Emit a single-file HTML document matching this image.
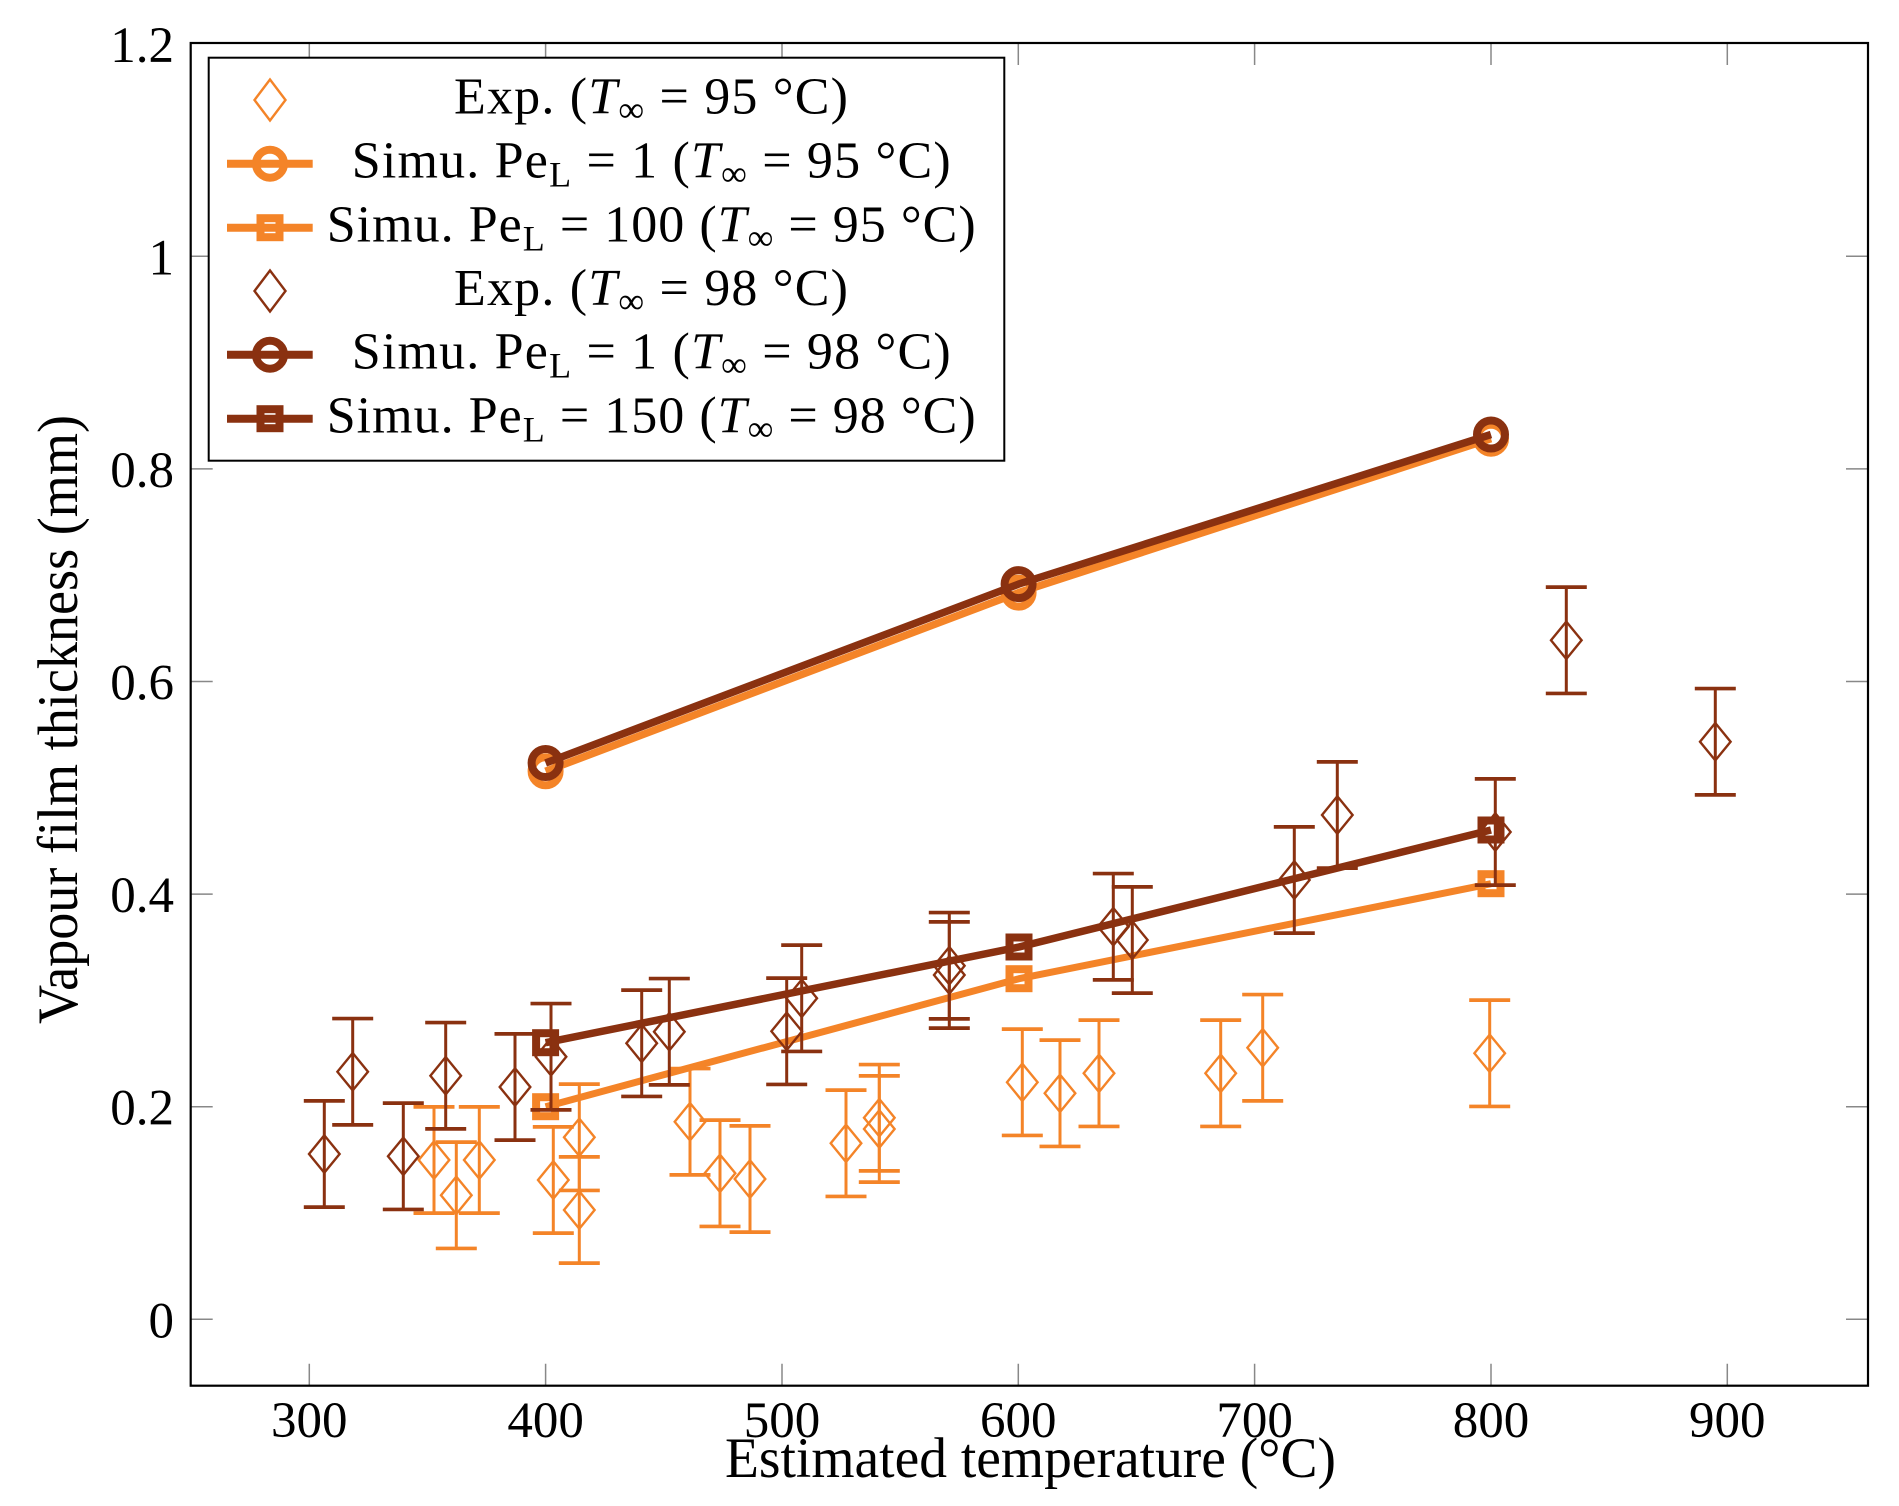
<!DOCTYPE html>
<html>
<head>
<meta charset="utf-8">
<style>
html,body{margin:0;padding:0;background:#fff;}
svg{display:block;}
text{font-family:"Liberation Serif","DejaVu Serif",serif;fill:#000;}
</style>
</head>
<body>
<svg xmlns="http://www.w3.org/2000/svg" xmlns:xlink="http://www.w3.org/1999/xlink" width="1899" height="1506" viewBox="0 0 1899 1506">
<defs>
  <g id="eo" fill="none" stroke="#f48428">
    <path d="M0 -53.15V53.15" stroke-width="3"/>
    <path d="M-20.5 -53.15H20.5M-20.5 53.15H20.5" stroke-width="3.7"/>
    <path d="M0 -18.7L15.3 0L0 18.7L-15.3 0Z" stroke-width="2.4"/>
  </g>
  <g id="eb" fill="none" stroke="#8a3110">
    <path d="M0 -53.15V53.15" stroke-width="3"/>
    <path d="M-20.5 -53.15H20.5M-20.5 53.15H20.5" stroke-width="3.7"/>
    <path d="M0 -18.7L15.3 0L0 18.7L-15.3 0Z" stroke-width="2.4"/>
  </g>
</defs>
<rect width="1899" height="1506" fill="#fff"/>

<!-- ticks -->
<g stroke="#888" stroke-width="1.5">
  <path d="M190.7 1319.3h22M190.7 1106.7h22M190.7 894.1h22M190.7 681.5h22M190.7 468.9h22M190.7 256.3h22"/>
  <path d="M1868 1319.3h-22M1868 1106.7h-22M1868 894.1h-22M1868 681.5h-22M1868 468.9h-22M1868 256.3h-22"/>
  <path d="M309.3 1385.7v-22M545.6 1385.7v-22M782 1385.7v-22M1018.3 1385.7v-22M1254.6 1385.7v-22M1491 1385.7v-22M1727.3 1385.7v-22"/>
  <path d="M309.3 43v22M545.6 43v22M782 43v22M1018.3 43v22M1254.6 43v22M1491 43v22M1727.3 43v22"/>
</g>

<!-- Exp 95 (orange) -->
<use xlink:href="#eo" x="434" y="1160"/>
<use xlink:href="#eo" x="456.3" y="1195.3"/>
<use xlink:href="#eo" x="479.3" y="1160"/>
<use xlink:href="#eo" x="553.3" y="1180"/>
<use xlink:href="#eo" x="579.3" y="1137.3"/>
<use xlink:href="#eo" x="579.3" y="1210"/>
<use xlink:href="#eo" x="690" y="1121.7"/>
<use xlink:href="#eo" x="720" y="1173.3"/>
<use xlink:href="#eo" x="750" y="1179"/>
<use xlink:href="#eo" x="846" y="1143.3"/>
<use xlink:href="#eo" x="879.3" y="1117.7"/>
<use xlink:href="#eo" x="879.3" y="1129"/>
<use xlink:href="#eo" x="1022.3" y="1082.3"/>
<use xlink:href="#eo" x="1060" y="1093.3"/>
<use xlink:href="#eo" x="1099" y="1073.3"/>
<use xlink:href="#eo" x="1220.7" y="1073.3"/>
<use xlink:href="#eo" x="1262.7" y="1047.7"/>
<use xlink:href="#eo" x="1489.7" y="1053.3"/>

<!-- Sim Pe=1 95 -->
<polyline points="545.6,771.3 1018.6,592.6 1491,438.7" fill="none" stroke="#f48428" stroke-width="7.5" stroke-linejoin="round"/>
<g fill="none" stroke="#f48428" stroke-width="8">
  <circle cx="545.6" cy="771.3" r="14"/><circle cx="1018.6" cy="592.6" r="14"/><circle cx="1491" cy="438.7" r="14"/>
</g>
<!-- Sim Pe=100 95 -->
<polyline points="545.6,1106.7 1019,978.7 1491,883.7" fill="none" stroke="#f48428" stroke-width="7" stroke-linejoin="round"/>
<g fill="none" stroke="#f48428" stroke-width="8">
  <rect x="536.1" y="1097.2" width="19" height="19"/><rect x="1009.5" y="969.2" width="19" height="19"/><rect x="1481.5" y="874.2" width="19" height="19"/>
</g>

<!-- Exp 98 (brown) -->
<use xlink:href="#eb" x="324.3" y="1154"/>
<use xlink:href="#eb" x="352.7" y="1071.7"/>
<use xlink:href="#eb" x="403.3" y="1156.3"/>
<use xlink:href="#eb" x="445.7" y="1075.7"/>
<use xlink:href="#eb" x="515" y="1087"/>
<use xlink:href="#eb" x="551" y="1056.7"/>
<use xlink:href="#eb" x="641.7" y="1043.3"/>
<use xlink:href="#eb" x="669.3" y="1031.7"/>
<use xlink:href="#eb" x="786.7" y="1031.3"/>
<use xlink:href="#eb" x="801.7" y="998.3"/>
<use xlink:href="#eb" x="949.3" y="965.7"/>
<use xlink:href="#eb" x="949.3" y="975"/>
<use xlink:href="#eb" x="1113.3" y="926.7"/>
<use xlink:href="#eb" x="1132.3" y="940"/>
<use xlink:href="#eb" x="1294.3" y="880"/>
<use xlink:href="#eb" x="1337.3" y="815"/>
<use xlink:href="#eb" x="1495.3" y="832"/>
<use xlink:href="#eb" x="1566.3" y="640.3"/>
<use xlink:href="#eb" x="1715.3" y="741.7"/>

<!-- Sim Pe=1 98 -->
<polyline points="545.6,763 1018.6,584.1 1491,434.5" fill="none" stroke="#8a3110" stroke-width="7.5" stroke-linejoin="round"/>
<g fill="none" stroke="#8a3110" stroke-width="8">
  <circle cx="545.6" cy="763" r="14"/><circle cx="1018.6" cy="584.1" r="14"/><circle cx="1491" cy="434.5" r="14"/>
</g>
<!-- Sim Pe=150 98 -->
<polyline points="545.6,1042.7 1019,947 1491,830" fill="none" stroke="#8a3110" stroke-width="7.5" stroke-linejoin="round"/>
<g fill="none" stroke="#8a3110" stroke-width="8">
  <rect x="536.1" y="1033.2" width="19" height="19"/><rect x="1009.5" y="937.5" width="19" height="19"/><rect x="1481.5" y="820.5" width="19" height="19"/>
</g>

<!-- axis frame -->
<rect x="190.7" y="43" width="1677.3" height="1342.7" fill="none" stroke="#000" stroke-width="2.2"/>

<!-- tick labels -->
<g font-size="51" text-anchor="end">
  <text x="174" y="62">1.2</text>
  <text x="174" y="274.3">1</text>
  <text x="174" y="486.9">0.8</text>
  <text x="174" y="699.5">0.6</text>
  <text x="174" y="912.1">0.4</text>
  <text x="174" y="1124.7">0.2</text>
  <text x="174" y="1337.3">0</text>
</g>
<g font-size="51" text-anchor="middle">
  <text x="309.3" y="1437">300</text>
  <text x="545.6" y="1437">400</text>
  <text x="782" y="1437">500</text>
  <text x="1018.3" y="1437">600</text>
  <text x="1254.6" y="1437">700</text>
  <text x="1491" y="1437">800</text>
  <text x="1727.3" y="1437">900</text>
</g>

<!-- axis labels -->
<text x="725" y="1477" font-size="57" textLength="611" lengthAdjust="spacingAndGlyphs">Estimated temperature (°C)</text>
<text transform="translate(77,1024) rotate(-90)" font-size="57" textLength="609" lengthAdjust="spacingAndGlyphs">Vapour film thickness (mm)</text>

<!-- legend -->
<rect x="208.7" y="57.7" width="795.6" height="403" fill="#fff" stroke="#000" stroke-width="2"/>
<path d="M270 79.5L285.5 100L270 120.5L254.5 100Z" fill="none" stroke="#f48428" stroke-width="2.4"/>
<path d="M227 163.7H312.7" stroke="#f48428" stroke-width="8"/>
<circle cx="270" cy="163.7" r="14" fill="none" stroke="#f48428" stroke-width="8"/>
<path d="M227 227.7H312.7" stroke="#f48428" stroke-width="8"/>
<rect x="260.5" y="218.2" width="19" height="19" fill="none" stroke="#f48428" stroke-width="8"/>
<path d="M270 270.5L285.5 291L270 311.5L254.5 291Z" fill="none" stroke="#8a3110" stroke-width="2.4"/>
<path d="M227 354.7H312.7" stroke="#8a3110" stroke-width="8"/>
<circle cx="270" cy="354.7" r="14" fill="none" stroke="#8a3110" stroke-width="8"/>
<path d="M227 418.7H312.7" stroke="#8a3110" stroke-width="8"/>
<rect x="260.5" y="409.2" width="19" height="19" fill="none" stroke="#8a3110" stroke-width="8"/>

<g font-size="52">
  <text x="454" y="113.5" textLength="394" lengthAdjust="spacing">Exp. (<tspan font-style="italic">T</tspan><tspan font-size="36" dy="8">∞</tspan><tspan dy="-8"> = 95 °C)</tspan></text>
  <text x="351.7" y="177.5" textLength="599" lengthAdjust="spacing">Simu. Pe<tspan font-size="36" dy="9">L</tspan><tspan dy="-9"> = 1 (</tspan><tspan font-style="italic">T</tspan><tspan font-size="36" dy="8">∞</tspan><tspan dy="-8"> = 95 °C)</tspan></text>
  <text x="326.7" y="241.5" textLength="649" lengthAdjust="spacing">Simu. Pe<tspan font-size="36" dy="9">L</tspan><tspan dy="-9"> = 100 (</tspan><tspan font-style="italic">T</tspan><tspan font-size="36" dy="8">∞</tspan><tspan dy="-8"> = 95 °C)</tspan></text>
  <text x="454" y="304.8" textLength="394" lengthAdjust="spacing">Exp. (<tspan font-style="italic">T</tspan><tspan font-size="36" dy="8">∞</tspan><tspan dy="-8"> = 98 °C)</tspan></text>
  <text x="351.7" y="368.5" textLength="599" lengthAdjust="spacing">Simu. Pe<tspan font-size="36" dy="9">L</tspan><tspan dy="-9"> = 1 (</tspan><tspan font-style="italic">T</tspan><tspan font-size="36" dy="8">∞</tspan><tspan dy="-8"> = 98 °C)</tspan></text>
  <text x="326.7" y="432.5" textLength="649" lengthAdjust="spacing">Simu. Pe<tspan font-size="36" dy="9">L</tspan><tspan dy="-9"> = 150 (</tspan><tspan font-style="italic">T</tspan><tspan font-size="36" dy="8">∞</tspan><tspan dy="-8"> = 98 °C)</tspan></text>
</g>
</svg>
</body>
</html>
